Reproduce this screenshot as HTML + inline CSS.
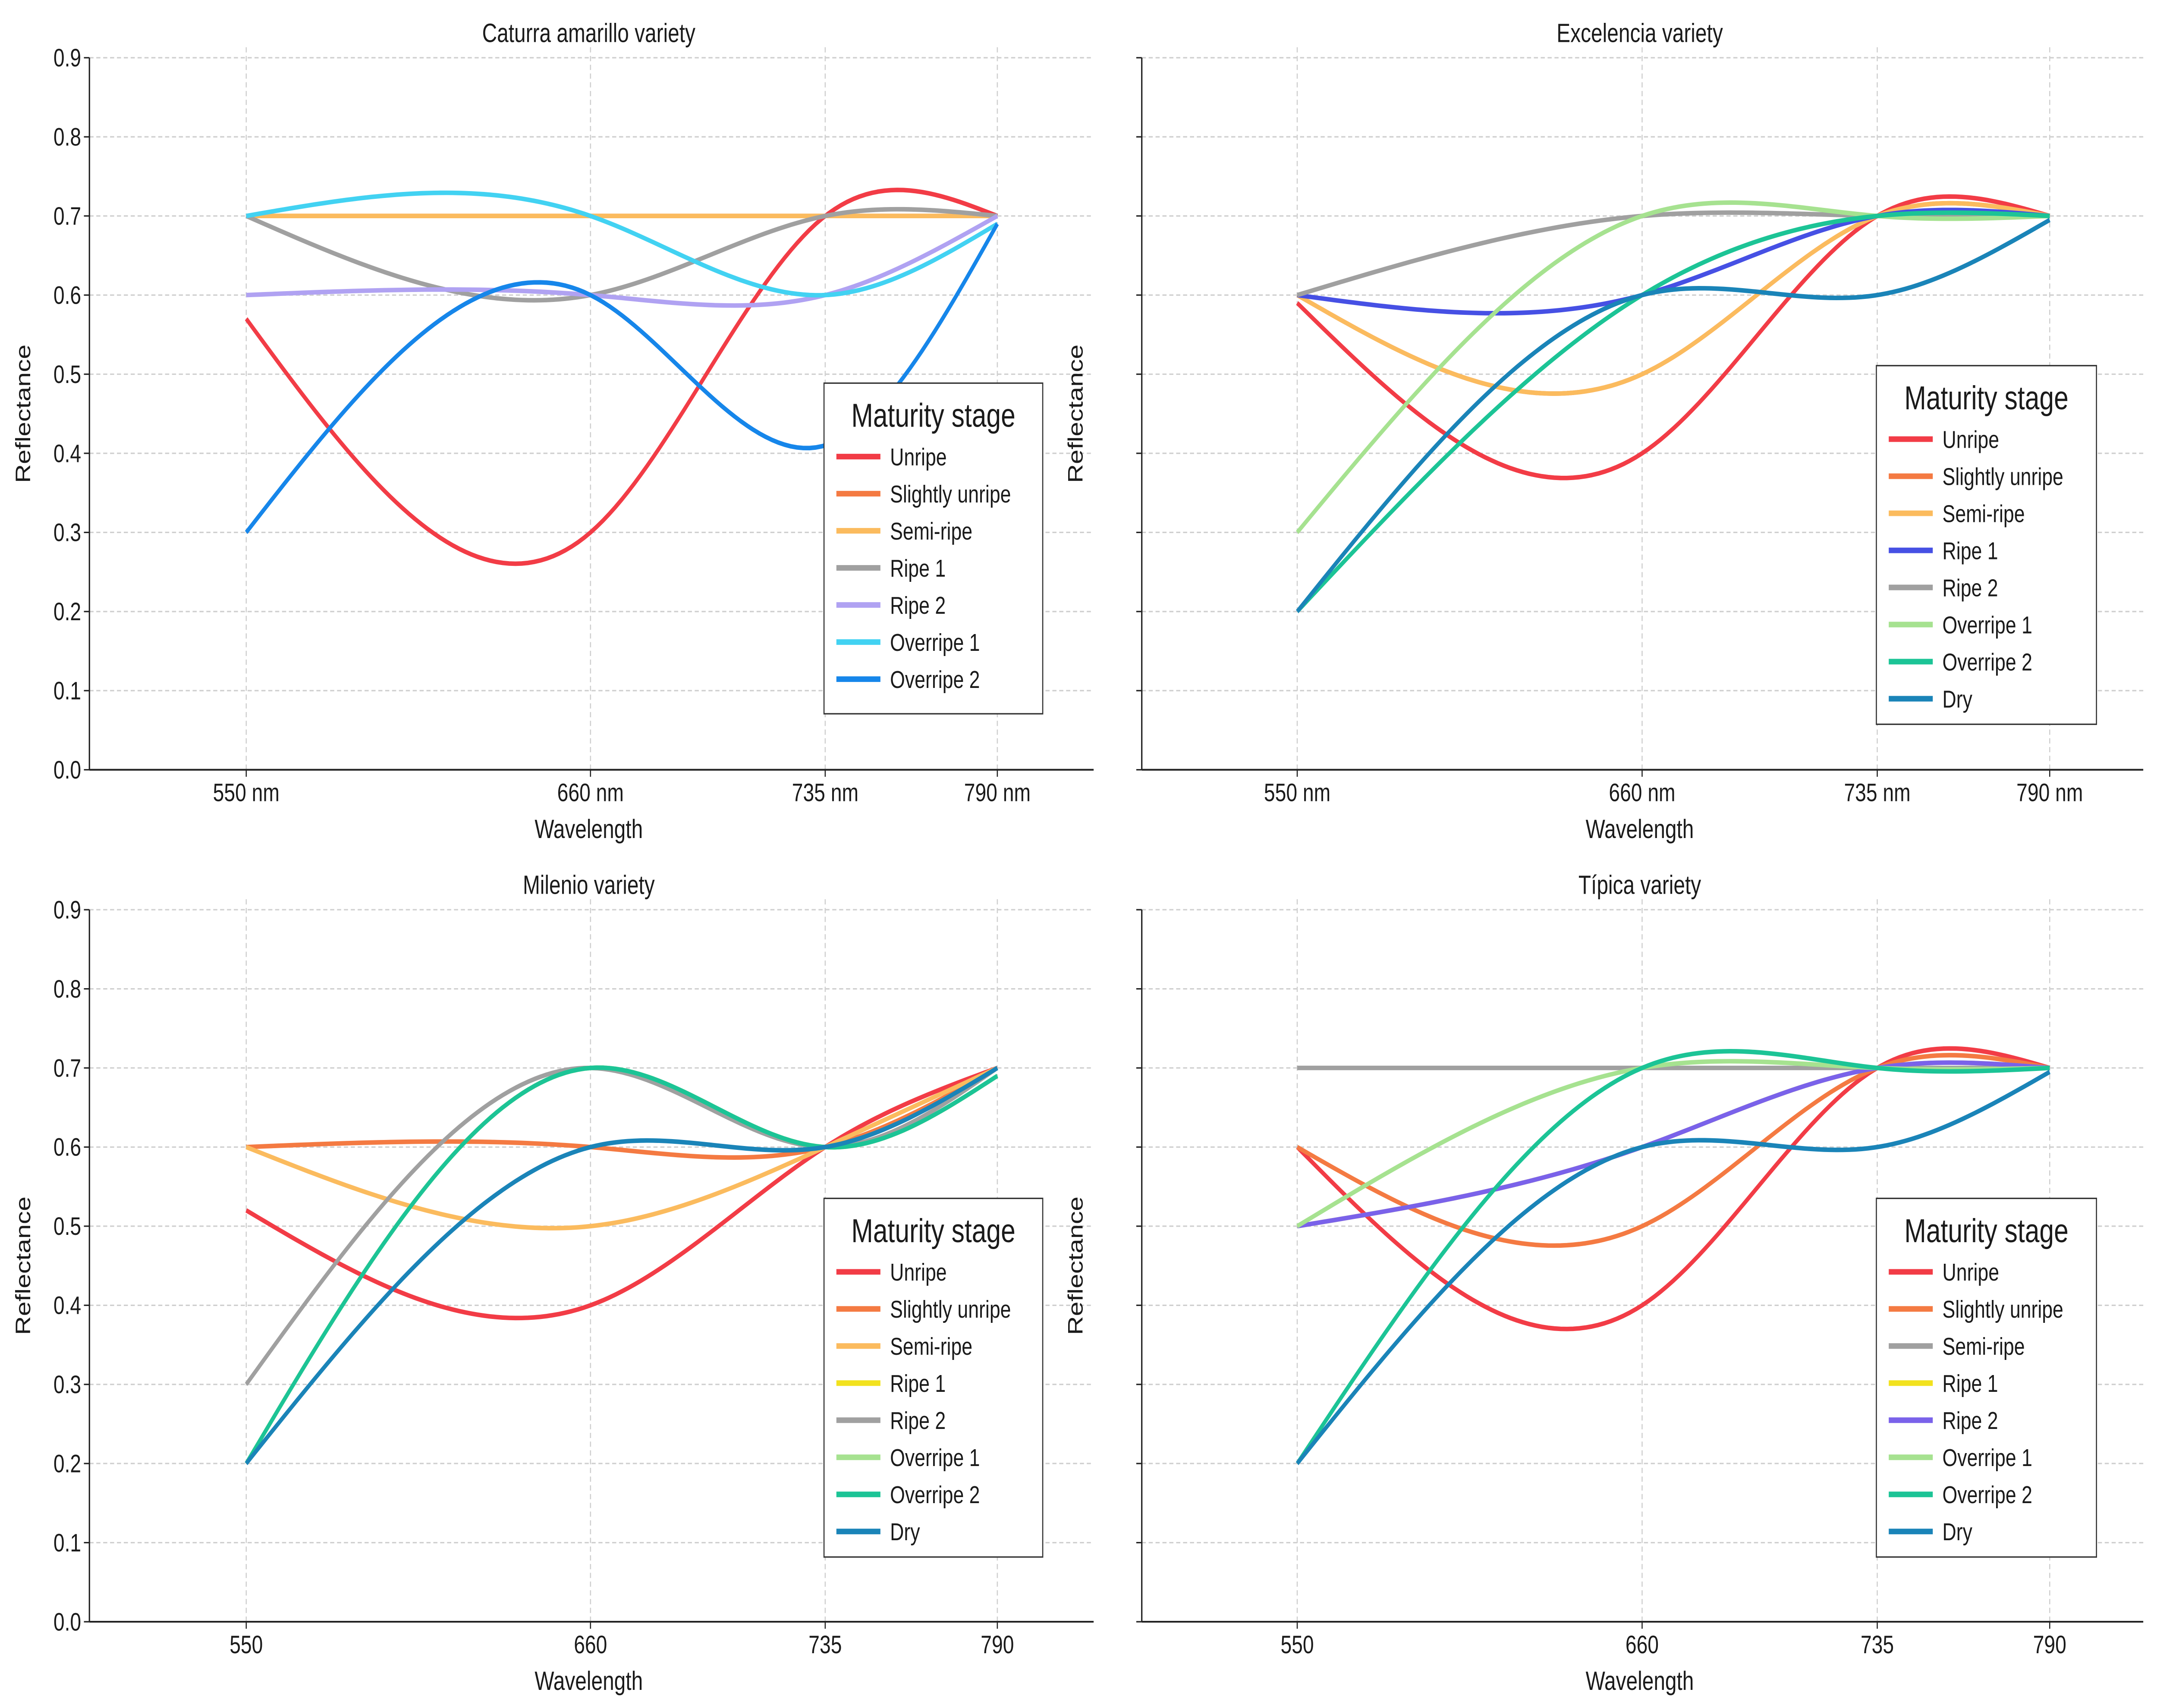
<!DOCTYPE html>
<html><head><meta charset="utf-8"><style>
html,body{margin:0;padding:0;background:#fff;width:100%;height:100%;overflow:hidden;}
svg{display:block;width:100vw;height:100vh;}
text{font-family:"Liberation Sans","DejaVu Sans",sans-serif;fill:#1a1a1a;}
</style></head><body>
<svg id="chart" viewBox="0 0 1568 976.3" preserveAspectRatio="none" xmlns="http://www.w3.org/2000/svg"></svg>
<script>
const wavelengths = [550, 660, 735, 790];
const yTicks = [0.0,0.1,0.2,0.3,0.4,0.5,0.6,0.7,0.8,0.9];
const yTickLabels = ["0.0","0.1","0.2","0.3","0.4","0.5","0.6","0.7","0.8","0.9"];
const xTickLabelsNm = ["550 nm","660 nm","735 nm","790 nm"];
const xTickLabelsPlain = ["550","660","735","790"];
const panelTitles = ["Caturra amarillo variety","Excelencia variety","Milenio variety","Típica variety"];

const p1Names = ["Unripe","Slightly unripe","Semi-ripe","Ripe 1","Ripe 2","Overripe 1","Overripe 2"];
const p1Colors = ["#f23c46","#f47a42","#fbbb5e","#a0a0a0","#b0a2f2","#42d2f2","#1686ea"];
const p1Values = [
 [0.57,0.30,0.70,0.70],
 [0.70,0.70,0.70,0.70],
 [0.70,0.70,0.70,0.70],
 [0.70,0.60,0.70,0.70],
 [0.60,0.60,0.60,0.70],
 [0.70,0.70,0.60,0.69],
 [0.30,0.60,0.41,0.69]];

const p2Names = ["Unripe","Slightly unripe","Semi-ripe","Ripe 1","Ripe 2","Overripe 1","Overripe 2","Dry"];
const p2Colors = ["#f23c46","#f47a42","#fbbb5e","#4650e4","#a0a0a0","#a6e290","#1cc496","#1a84b8"];
const p2Values = [
 [0.59,0.40,0.70,0.70],
 [0.60,0.50,0.70,0.70],
 [0.60,0.50,0.70,0.70],
 [0.60,0.60,0.70,0.70],
 [0.60,0.70,0.70,0.70],
 [0.30,0.70,0.70,0.70],
 [0.20,0.60,0.70,0.70],
 [0.20,0.60,0.60,0.695]];

const p3Names = ["Unripe","Slightly unripe","Semi-ripe","Ripe 1","Ripe 2","Overripe 1","Overripe 2","Dry"];
const p3Colors = ["#f23c46","#f47a42","#fbbb5e","#f2e21e","#a0a0a0","#a6e290","#1cc496","#1a84b8"];
const p3Values = [
 [0.52,0.40,0.60,0.70],
 [0.60,0.60,0.60,0.70],
 [0.60,0.50,0.60,0.70],
 [0.20,0.70,0.60,0.69],
 [0.30,0.70,0.60,0.70],
 [0.20,0.70,0.60,0.69],
 [0.20,0.70,0.60,0.69],
 [0.20,0.60,0.60,0.70]];

const p4Names = ["Unripe","Slightly unripe","Semi-ripe","Ripe 1","Ripe 2","Overripe 1","Overripe 2","Dry"];
const p4Colors = ["#f23c46","#f47a42","#a0a0a0","#f2e21e","#7a62ea","#a6e290","#1cc496","#1a84b8"];
const p4Values = [
 [0.60,0.40,0.70,0.70],
 [0.60,0.50,0.70,0.70],
 [0.70,0.70,0.70,0.70],
 [0.50,0.60,0.70,0.70],
 [0.50,0.60,0.70,0.70],
 [0.50,0.70,0.70,0.70],
 [0.20,0.70,0.70,0.70],
 [0.20,0.60,0.60,0.695]];

const NS="http://www.w3.org/2000/svg";
const svg=document.getElementById('chart');
function mk(tag,attrs,parent){const e=document.createElementNS(NS,tag);for(const k in attrs)e.setAttribute(k,attrs[k]);(parent||svg).appendChild(e);return e;}

function spline(xs,ys){
  const n=xs.length,h=[],al=[],l=[1],mu=[0],z=[0],c=new Array(n).fill(0),b=[],d=[];
  for(let i=0;i<n-1;i++)h.push(xs[i+1]-xs[i]);
  for(let i=1;i<n-1;i++)al[i]=3/h[i]*(ys[i+1]-ys[i])-3/h[i-1]*(ys[i]-ys[i-1]);
  for(let i=1;i<n-1;i++){l[i]=2*(xs[i+1]-xs[i-1])-h[i-1]*mu[i-1];mu[i]=h[i]/l[i];z[i]=(al[i]-h[i-1]*z[i-1])/l[i];}
  for(let j=n-2;j>=0;j--){c[j]=z[j]-mu[j]*c[j+1];b[j]=(ys[j+1]-ys[j])/h[j]-h[j]*(c[j+1]+2*c[j])/3;d[j]=(c[j+1]-c[j])/(3*h[j]);}
  return x=>{let i=0;while(i<n-2&&x>xs[i+1])i++;const t=x-xs[i];return ys[i]+b[i]*t+c[i]*t*t+d[i]*t*t*t;};
}

const panels=[
 {x0:65,x1:795,y0:33,y1:440,names:p1Names,colors:p1Colors,values:p1Values,xl:xTickLabelsNm,ylab:true,leg:{x:599,y:219,w:159,h:189},title:panelTitles[0],id:'caturra'},
 {x0:830,x1:1558,y0:33,y1:440,names:p2Names,colors:p2Colors,values:p2Values,xl:xTickLabelsNm,ylab:false,leg:{x:1364,y:209,w:160,h:205},title:panelTitles[1],id:'excelencia'},
 {x0:65,x1:795,y0:520,y1:927,names:p3Names,colors:p3Colors,values:p3Values,xl:xTickLabelsPlain,ylab:true,leg:{x:599,y:685,w:159,h:205},title:panelTitles[2],id:'milenio'},
 {x0:830,x1:1558,y0:520,y1:927,names:p4Names,colors:p4Colors,values:p4Values,xl:xTickLabelsPlain,ylab:false,leg:{x:1364,y:685,w:160,h:205},title:panelTitles[3],id:'tipica'}];

panels.forEach(P=>{
  const g=mk('g',{});
  
  
  const pxPerNm=(P.x0===65)?(725-179)/240:(1490-943)/240;
  const x550=(P.x0===65)?179:943;
  const sx=w=>x550+(w-550)*pxPerNm;
  const sy=v=>P.y1-(v/0.9)*(P.y1-P.y0);
  yTicks.forEach((t,i)=>{
    const y=sy(t);
    const gl=mk('line',{x1:P.x0,x2:P.x1,y1:y,y2:y,stroke:'#cfcfcf','stroke-width':0.8,'stroke-dasharray':'3,2'},g);
    
    
    mk('line',{x1:P.x0-4,x2:P.x0,y1:y,y2:y,stroke:'#222','stroke-width':0.8},g);
    if(P.ylab){const tt=mk('text',{x:P.x0-6,y:y+5,'text-anchor':'end','font-size':14.5},g);tt.textContent=yTickLabels[i];
      }
  });
  wavelengths.forEach((w,i)=>{
    const x=sx(w);
    const gl=mk('line',{x1:x,x2:x,y1:P.y0-6,y2:P.y1,stroke:'#cfcfcf','stroke-width':0.8,'stroke-dasharray':'3,2'},g);
    
    
    mk('line',{x1:x,x2:x,y1:P.y1,y2:P.y1+4,stroke:'#222','stroke-width':0.8},g);
    const tt=mk('text',{x:x,y:P.y1+18,'text-anchor':'middle','font-size':14.5},g);tt.textContent=P.xl[i];
    
  });
  mk('line',{x1:P.x0,x2:P.x0,y1:P.y0,y2:P.y1,stroke:'#222','stroke-width':1},g);
  mk('line',{x1:P.x0,x2:P.x1,y1:P.y1,y2:P.y1,stroke:'#222','stroke-width':1},g);
  const ti=mk('text',{x:(P.x0+P.x1)/2-2,y:P.y0-9,'text-anchor':'middle','font-size':15},g);ti.textContent=P.title;
  
  const xa=mk('text',{x:(P.x0+P.x1)/2-2,y:P.y1+39,'text-anchor':'middle','font-size':15},g);xa.textContent='Wavelength';
  
  const yax=P.x0-43, yay=(P.y0+P.y1)/2;
  const ya=mk('text',{x:yax,y:yay,'text-anchor':'middle','font-size':15,transform:`rotate(-90 ${yax} ${yay})`},g);ya.textContent='Reflectance';
  
  P.values.forEach((vals,si)=>{
    const f=spline(wavelengths,vals);
    let d='';
    for(let w=550;w<=790;w+=2){d+=(w===550?'M':'L')+sx(w).toFixed(2)+','+sy(f(w)).toFixed(2);}
    const p=mk('path',{d:d,fill:'none',stroke:P.colors[si],'stroke-width':2.6,'stroke-linejoin':'round'},g);
    
    
  });
  const L=P.leg;
  const lg=mk('g',{},g);
  
  
  mk('rect',{x:L.x,y:L.y,width:L.w,height:L.h,fill:'#fff',stroke:'#333','stroke-width':0.8},lg);
  const lt=mk('text',{x:L.x+L.w/2,y:L.y+25,'text-anchor':'middle','font-size':19},lg);lt.textContent='Maturity stage';
  
  P.names.forEach((n,i)=>{
    const y=L.y+42+i*21.2;
    const e=mk('g',{},lg);
    
    
    mk('line',{x1:L.x+9,x2:L.x+41,y1:y,y2:y,stroke:P.colors[i],'stroke-width':3.2},e);
    const t=mk('text',{x:L.x+48,y:y+5,'font-size':14},e);t.textContent=n;
  });
});
</script>
</body></html>
